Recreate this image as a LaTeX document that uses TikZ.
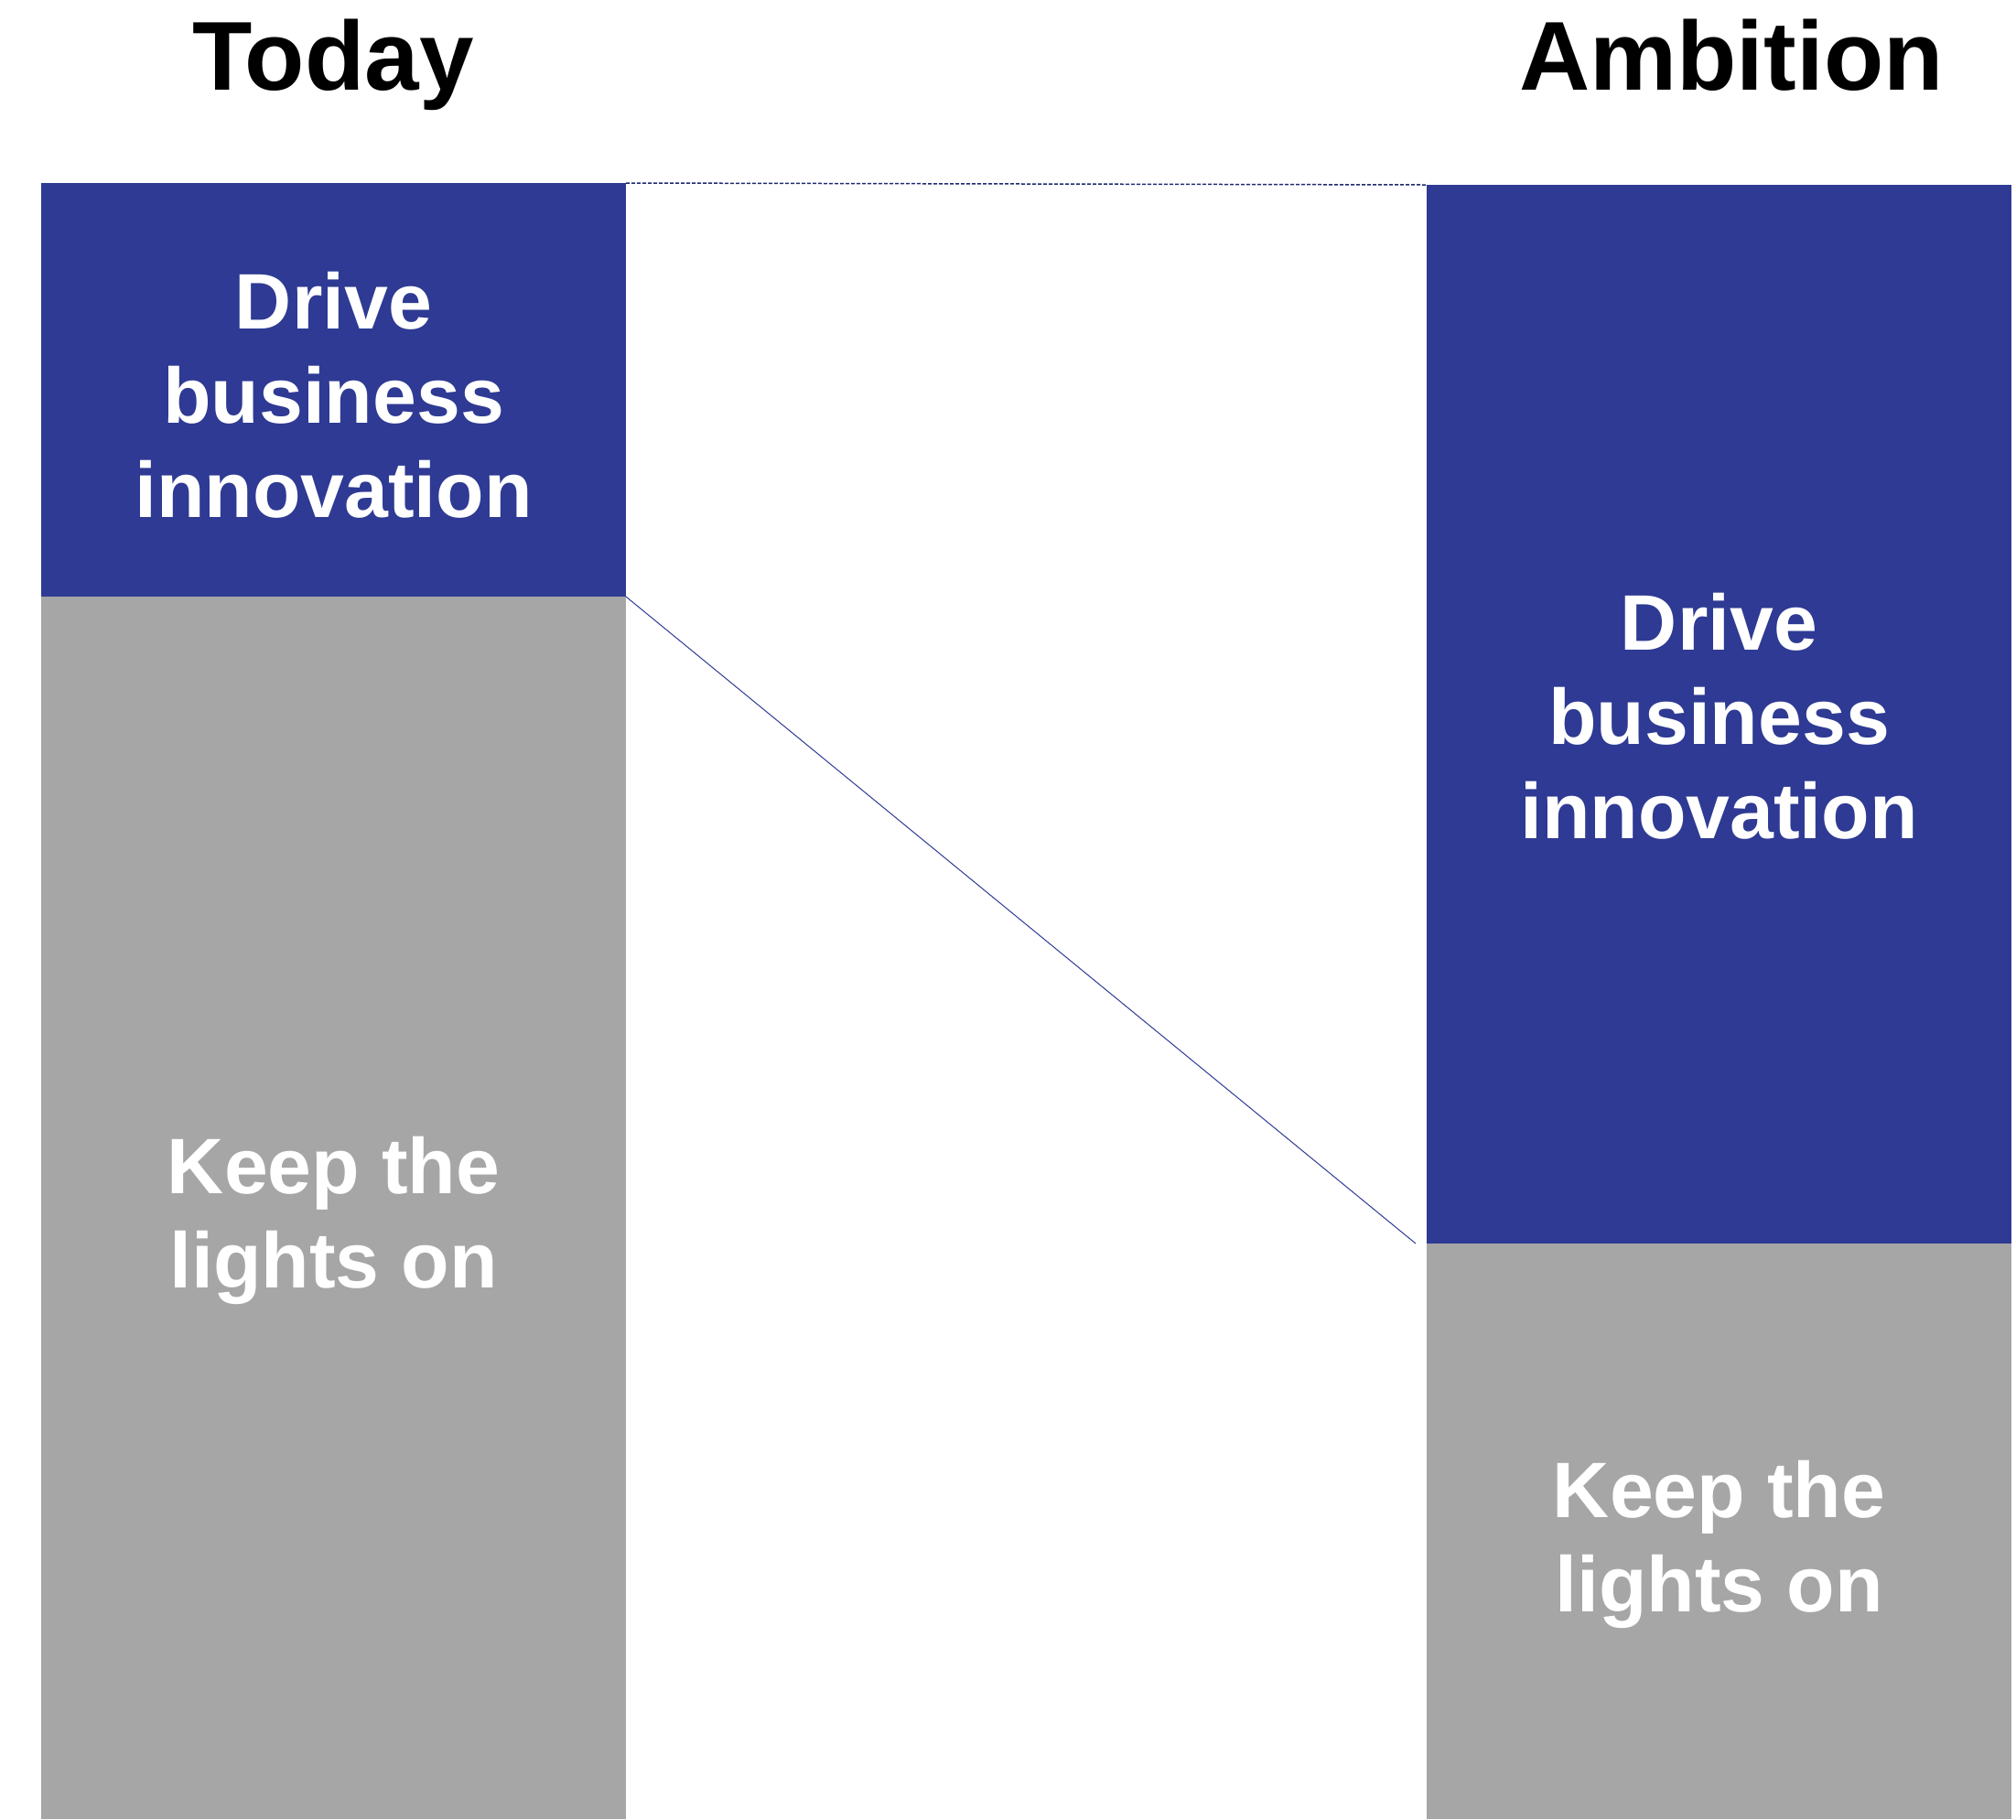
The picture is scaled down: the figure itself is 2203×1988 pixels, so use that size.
\documentclass[tikz,border=0pt]{standalone}
\usepackage{fontspec}
\setmainfont{Liberation Sans}
\definecolor{navy}{HTML}{2E3A93}
\definecolor{gry}{HTML}{A6A6A6}
\definecolor{linenavy}{HTML}{1F2A6E}
\begin{document}
\begin{tikzpicture}[x=0.5pt,y=-0.5pt,
  bar/.style={inner sep=0pt, outer sep=0pt, anchor=north west, minimum width=319.5pt},
  bartext/.style={inner sep=0pt, text=white,
    font=\bfseries\fontsize{43}{51.5}\selectfont, align=center},
  title/.style={anchor=base, inner sep=0pt, font=\bfseries\fontsize{53.5}{60}\selectfont},
  dashline/.style={draw=linenavy, line width=0.75pt, dash pattern=on 2pt off 1pt},
  diagline/.style={draw=navy, line width=0.5pt}]
\useasboundingbox (0,0) rectangle (2203,1988);
\node[title] (today) at (364,98) {Today};
\node[title] (ambition) at (1892,98) {Ambition};
\node[bar, fill=navy, minimum height=226pt] (tb) at (45,200) {};
\node[bar, fill=gry, minimum height=668pt] (tg) at (45,652) {};
\node[bar, fill=navy, minimum height=578.5pt] (ab) at (1559,202) {};
\node[bar, fill=gry, minimum height=314.5pt] (ag) at (1559,1359) {};
\node[bartext] (tbt) at ([yshift=-3pt]tb.center) {Drive\\business\\innovation};
\node[bartext] (tgt) at ([yshift=-7pt]tg.center) {Keep the\\lights on};
\node[bartext] (abt) at ([yshift=-1pt]ab.center) {Drive\\business\\innovation};
\node[bartext] (agt) at ([yshift=-7pt]ag.center) {Keep the\\lights on};
\coordinate (dend) at (1547,1359);
\draw[dashline] (tb.north east) -- (ab.north west);
\draw[diagline] (tb.south east) -- (dend);
\end{tikzpicture}
\end{document}
